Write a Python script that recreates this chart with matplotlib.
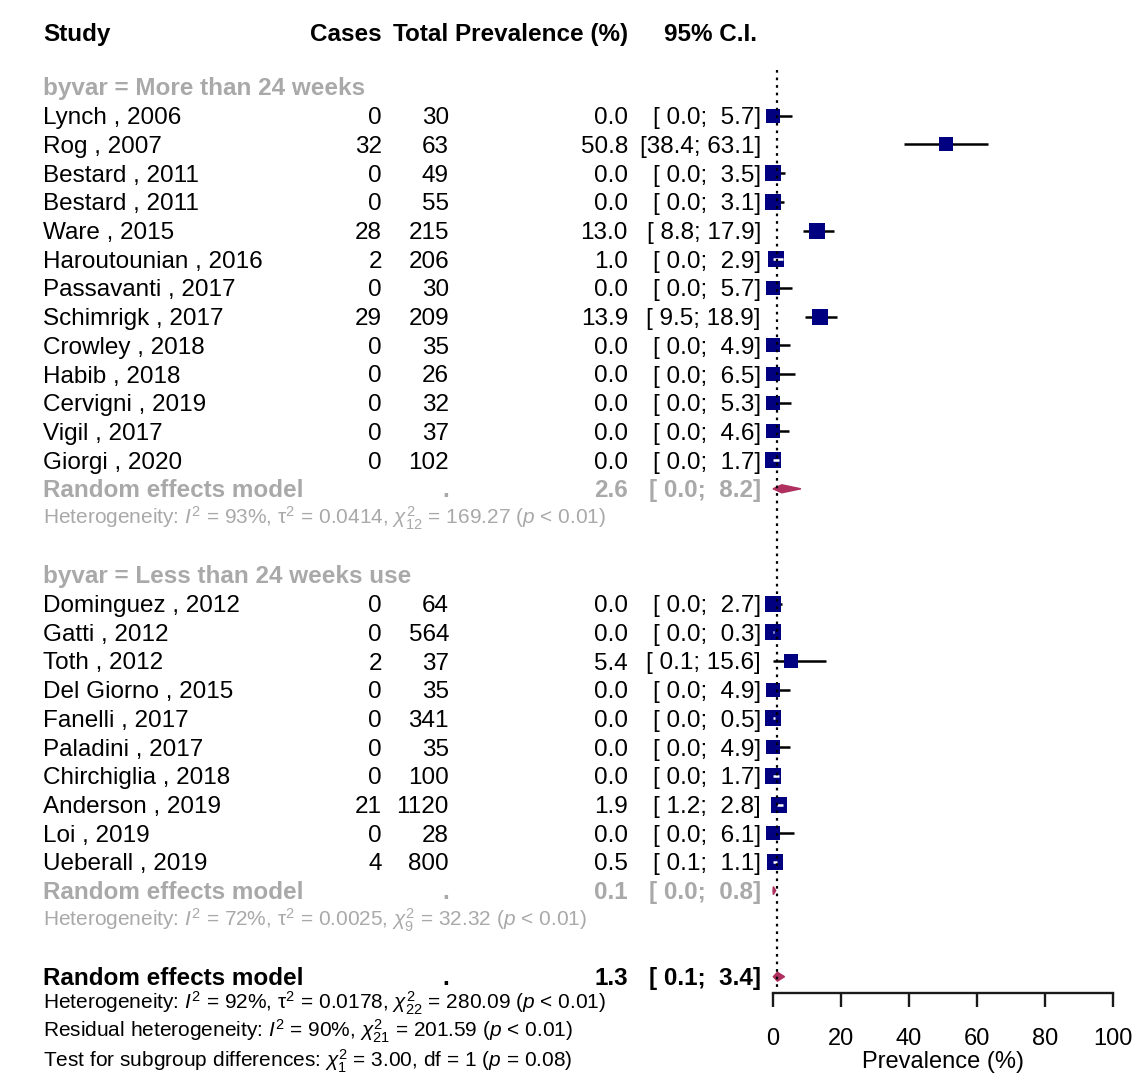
import matplotlib
matplotlib.use("Agg")
import matplotlib.pyplot as plt
from matplotlib.patches import Polygon

plt.rcParams["font.family"] = ["Liberation Sans", "DejaVu Sans"]
plt.rcParams["mathtext.fontset"] = "custom"
plt.rcParams["mathtext.rm"] = "Liberation Sans"
plt.rcParams["mathtext.it"] = "Liberation Sans:italic"
plt.rcParams["mathtext.bf"] = "Liberation Sans:bold"

# ---- study data -------------------------------------------------------
group_labels = ["byvar = More than 24 weeks", "byvar = Less than 24 weeks use"]

studies_g1 = ["Lynch , 2006", "Rog , 2007", "Bestard , 2011", "Bestard , 2011",
              "Ware , 2015", "Haroutounian , 2016", "Passavanti , 2017",
              "Schimrigk , 2017", "Crowley , 2018", "Habib , 2018",
              "Cervigni , 2019", "Vigil , 2017", "Giorgi , 2020"]
cases_g1 = [0, 32, 0, 0, 28, 2, 0, 29, 0, 0, 0, 0, 0]
total_g1 = [30, 63, 49, 55, 215, 206, 30, 209, 35, 26, 32, 37, 102]
prev_g1 = [0.0, 50.8, 0.0, 0.0, 13.0, 1.0, 0.0, 13.9, 0.0, 0.0, 0.0, 0.0, 0.0]
lo_g1 = [0.0, 38.4, 0.0, 0.0, 8.8, 0.0, 0.0, 9.5, 0.0, 0.0, 0.0, 0.0, 0.0]
hi_g1 = [5.7, 63.1, 3.5, 3.1, 17.9, 2.9, 5.7, 18.9, 4.9, 6.5, 5.3, 4.6, 1.7]
weight_g1 = [4.0, 4.0, 4.3, 4.3, 4.9, 4.9, 4.0, 4.9, 4.0, 4.0, 4.0, 4.0, 4.6]

studies_g2 = ["Dominguez , 2012", "Gatti , 2012", "Toth , 2012", "Del Giorno , 2015",
              "Fanelli , 2017", "Paladini , 2017", "Chirchiglia , 2018",
              "Anderson , 2019", "Loi , 2019", "Ueberall , 2019"]
cases_g2 = [0, 0, 2, 0, 0, 0, 0, 21, 0, 4]
total_g2 = [64, 564, 37, 35, 341, 35, 100, 1120, 28, 800]
prev_g2 = [0.0, 0.0, 5.4, 0.0, 0.0, 0.0, 0.0, 1.9, 0.0, 0.5]
lo_g2 = [0.0, 0.0, 0.1, 0.0, 0.0, 0.0, 0.0, 1.2, 0.0, 0.1]
hi_g2 = [2.7, 0.3, 15.6, 4.9, 0.5, 4.9, 1.7, 2.8, 6.1, 1.1]
weight_g2 = [4.6, 4.6, 4.0, 4.0, 4.6, 4.0, 4.6, 4.9, 4.0, 4.6]

# pooled estimates: subgroups then overall
sub_est = [2.6, 0.1]
sub_lo = [0.0, 0.0]
sub_hi = [8.2, 0.8]
overall_est, overall_lo, overall_hi = 1.3, 0.1, 3.4

# heterogeneity statistics
sub_i2 = [93, 72]
sub_tau2 = ["0.0414", "0.0025"]
sub_q = ["169.27", "32.32"]
sub_df = [12, 9]
tot_i2, tot_tau2, tot_q, tot_df = 92, "0.0178", "280.09", 22
res_i2, res_q, res_df = 90, "201.59", 21
between_q, between_df, between_p = "3.00", 1, "0.08"

x_ticks = [0, 20, 40, 60, 80, 100]
x_label = "Prevalence (%)"

# ---- layout ------------------------------------------------------------
W, H = 1135, 1078
ROW0, STEP = 87.0, 28.7
X_NAME, X_CASES, X_TOTAL, X_PREV, X_CI = 43, 382, 449, 628, 761
X0_PX, X1_PX, AXIS_Y = 773, 1113, 993
FS, FS_SMALL = 17.5, 15
GREY = "#A9A9A9"
SQ_COL = "#000080"
DIA_COL = "#B03060"


def ypos(r):
    return ROW0 + r * STEP


def ci_text(lo, hi):
    return "[" + f"{lo:4.1f}" + "; " + f"{hi:4.1f}" + "]"


fig = plt.figure(figsize=(W / 100, H / 100), dpi=100)
tab = fig.add_axes([0, 0, 1, 1])
tab.set_xlim(0, W)
tab.set_ylim(H, 0)
tab.axis("off")

fx = fig.add_axes([X0_PX / W, (H - AXIS_Y) / H, (X1_PX - X0_PX) / W, AXIS_Y / H])
fx.set_xlim(x_ticks[0], x_ticks[-1])
fx.set_ylim(AXIS_Y, 0)
fx.patch.set_alpha(0)
for side in ("left", "right", "top"):
    fx.spines[side].set_visible(False)
fx.spines["bottom"].set_bounds(x_ticks[0], x_ticks[-1])
fx.spines["bottom"].set_linewidth(1.7)
fx.spines["bottom"].set_color("#1a1a1a")
fx.set_yticks([])
fx.set_xticks(x_ticks)
fx.set_xticklabels([str(t) for t in x_ticks])
fx.tick_params(axis="x", length=10, width=1.7, color="#1a1a1a", pad=15,
               labelsize=17)
fx.set_xlabel(x_label, fontsize=17, labelpad=1)

px_per_unit = (X1_PX - X0_PX) / (x_ticks[-1] - x_ticks[0])


def txt(x, r, s, ha="left", size=FS, color="black", weight="normal", off=None):
    if off is None:
        off = 8.5 if size == FS else 7
    tab.text(x, ypos(r) + off, s, ha=ha, va="baseline", fontsize=size,
             color=color, fontweight=weight)


# header
for x, s, ha in [(X_NAME, "Study", "left"), (X_CASES, "Cases", "right"),
                 (X_TOTAL, "Total", "right"), (X_PREV, "Prevalence (%)", "right"),
                 (X_CI - 4, "95% C.I.", "right")]:
    txt(x, -1.9, s, ha=ha, weight="bold")


def draw_study(r, name, cs, tot, est, lo, hi, w):
    txt(X_NAME, r, name)
    txt(X_CASES, r, str(cs), ha="right")
    txt(X_TOTAL, r, str(tot), ha="right")
    txt(X_PREV, r, f"{est:.1f}", ha="right")
    txt(X_CI, r, ci_text(lo, hi), ha="right")
    side_px = 14.5 * (w / 4.0) ** 0.5
    y = ypos(r)
    fx.scatter([est], [y], marker="s", s=(side_px * 0.72) ** 2, color=SQ_COL,
               linewidths=0, zorder=3, clip_on=False)
    half = side_px / 2 / px_per_unit
    inside = lo >= est - half and hi <= est + half
    fx.plot([lo, hi], [y, y], color="white" if inside else "black",
            lw=1.8, zorder=4 if inside else 2, solid_capstyle="butt",
            clip_on=False)


def draw_diamond(r, est, lo, hi, half_h=4.0):
    y = ypos(r)
    fx.add_patch(Polygon([(lo, y), (est, y - half_h), (hi, y), (est, y + half_h)],
                         closed=True, facecolor=DIA_COL, edgecolor=DIA_COL,
                         lw=1.0, zorder=3, clip_on=False))


def het_line(i2, tau2, q, df):
    return (f"Heterogeneity: $I^{{2}}$ = {i2}%, $\\mathrm{{\\tau}}^{{2}}$ = {tau2}, "
            f"$\\chi^{{2}}_{{{df}}}$ = {q} ($p$ < 0.01)")


groups = [
    (studies_g1, cases_g1, total_g1, prev_g1, lo_g1, hi_g1, weight_g1),
    (studies_g2, cases_g2, total_g2, prev_g2, lo_g2, hi_g2, weight_g2),
]

r = 0
for g, (names, cs, tots, ests, los, his, ws) in enumerate(groups):
    txt(X_NAME, r, group_labels[g], color=GREY, weight="bold")
    r += 1
    for i in range(len(names)):
        draw_study(r, names[i], cs[i], tots[i], ests[i], los[i], his[i], ws[i])
        r += 1
    txt(X_NAME, r, "Random effects model", color=GREY, weight="bold")
    txt(X_TOTAL, r, ".", ha="right", color=GREY, weight="bold")
    txt(X_PREV, r, f"{sub_est[g]:.1f}", ha="right", color=GREY, weight="bold")
    txt(X_CI, r, ci_text(sub_lo[g], sub_hi[g]), ha="right", color=GREY,
        weight="bold")
    draw_diamond(r, sub_est[g], sub_lo[g], sub_hi[g])
    r += 1
    txt(X_NAME, r, het_line(sub_i2[g], sub_tau2[g], sub_q[g], sub_df[g]),
        size=FS_SMALL, color=GREY)
    r += 2

# overall pooled result
r_all = r
txt(X_NAME, r_all, "Random effects model", weight="bold")
txt(X_TOTAL, r_all, ".", ha="right", weight="bold")
txt(X_PREV, r_all, f"{overall_est:.1f}", ha="right", weight="bold")
txt(X_CI, r_all, ci_text(overall_lo, overall_hi), ha="right", weight="bold")
draw_diamond(r_all, overall_est, overall_lo, overall_hi, half_h=4.5)

txt(X_NAME, r_all + 0.9, het_line(tot_i2, tot_tau2, tot_q, tot_df), size=FS_SMALL)
txt(X_NAME, r_all + 1.88,
    f"Residual heterogeneity: $I^{{2}}$ = {res_i2}%, "
    f"$\\chi^{{2}}_{{{res_df}}}$ = {res_q} ($p$ < 0.01)", size=FS_SMALL)
txt(X_NAME, r_all + 2.9,
    f"Test for subgroup differences: $\\chi^{{2}}_{{{between_df}}}$ = {between_q}, "
    f"df = {between_df} ($p$ = {between_p})", size=FS_SMALL)

# reference line at the overall pooled estimate
fx.vlines(overall_est, 70, 987, colors="black", linestyles=(0, (1.2, 2.2)),
          lw=1.6, zorder=5, clip_on=False)

fig.savefig("out.png", dpi=100, facecolor="white")
